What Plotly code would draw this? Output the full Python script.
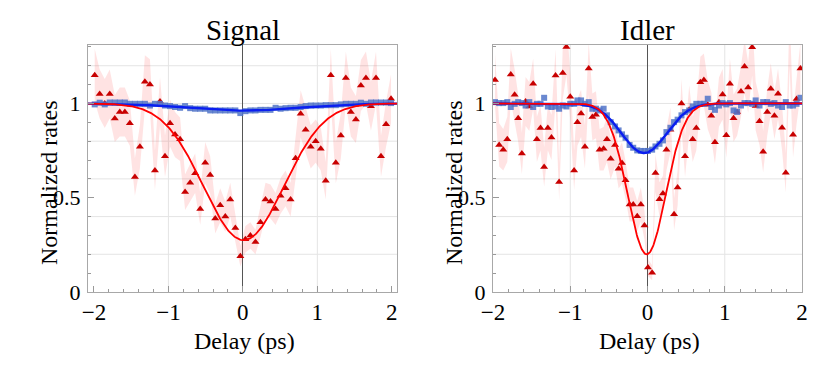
import numpy as np
import plotly.graph_objects as go

# ---------------- data ----------------
SIG_X = [-1.990, -1.923, -1.855, -1.788, -1.720, -1.653, -1.585, -1.518, -1.450, -1.383,
         -1.316, -1.248, -1.181, -1.113, -1.046, -0.978, -0.911, -0.843, -0.776, -0.708,
         -0.641, -0.573, -0.506, -0.439, -0.371, -0.304, -0.236, -0.169, -0.101, -0.034,
         0.034, 0.101, 0.169, 0.236, 0.304, 0.371, 0.439, 0.506, 0.573, 0.641,
         0.708, 0.776, 0.843, 0.911, 0.978, 1.046, 1.113, 1.181, 1.248, 1.316,
         1.383, 1.450, 1.518, 1.585, 1.653, 1.720, 1.788, 1.855, 1.923, 1.990]
SIG_RED = [1.15, 1.05, 1.00, 1.05, 0.92, 0.955, 0.955, 0.895, 0.61, 0.77,
           1.115, 1.10, 0.645, 1.01, 0.72, 0.895, 0.835, 0.81, 0.53, 0.58,
           0.63, 0.44, 0.685, 0.62, 0.39, 0.46, 0.40, 0.49, 0.34, 0.19,
           0.28, 0.30, 0.265, 0.37, 0.49, 0.48, 0.44, 0.51, 0.55, 0.49,
           0.71, 0.945, 0.86, 0.77, 0.80, 0.76, 0.59, 1.15, 0.685, 0.83,
           1.135, 0.955, 0.915, 1.095, 1.135, 0.985, 1.135, 0.72, 0.89, 1.025]
SIG_RED_ERR = [0.14, 0.13, 0.13, 0.13, 0.125, 0.13, 0.13, 0.12, 0.10, 0.115,
               0.14, 0.135, 0.105, 0.13, 0.11, 0.125, 0.12, 0.115, 0.095, 0.10,
               0.105, 0.085, 0.11, 0.10, 0.08, 0.09, 0.08, 0.09, 0.075, 0.055,
               0.07, 0.07, 0.065, 0.08, 0.09, 0.09, 0.085, 0.095, 0.095, 0.09,
               0.11, 0.125, 0.12, 0.115, 0.115, 0.115, 0.10, 0.14, 0.11, 0.12,
               0.14, 0.13, 0.125, 0.135, 0.14, 0.13, 0.14, 0.11, 0.12, 0.13]
SIG_BLUE = [0.995, 1.004, 0.995, 1.005, 1.005, 1.005, 1.005, 0.998, 0.998, 0.998,
            0.998, 0.989, 0.998, 0.998, 0.989, 0.986, 0.981, 0.977, 0.986, 0.975,
            0.972, 0.972, 0.972, 0.963, 0.963, 0.963, 0.963, 0.963, 0.963, 0.949,
            0.959, 0.963, 0.963, 0.966, 0.966, 0.966, 0.977, 0.972, 0.975, 0.977,
            0.977, 0.981, 0.986, 0.989, 0.989, 0.989, 0.991, 0.991, 0.991, 0.995,
            0.998, 0.998, 0.998, 1.004, 0.998, 1.005, 1.005, 1.005, 1.005, 1.002]

IDL_X = [-1.974, -1.920, -1.867, -1.815, -1.770, -1.720, -1.674, -1.626, -1.578, -1.530,
         -1.480, -1.432, -1.385, -1.338, -1.290, -1.243, -1.190, -1.144, -1.097, -1.050,
         -1.000, -0.950, -0.907, -0.860, -0.810, -0.761, -0.714, -0.667, -0.620, -0.568,
         -0.525, -0.477, -0.420, -0.374, -0.330, -0.284, -0.232, -0.185, -0.133, -0.086,
         -0.039, 0.006, 0.060, 0.103, 0.155, 0.200, 0.245, 0.297, 0.344, 0.390,
         0.440, 0.486, 0.540, 0.585, 0.632, 0.684, 0.730, 0.780, 0.826, 0.873,
         0.925, 0.972, 1.020, 1.067, 1.114, 1.160, 1.210, 1.256, 1.303, 1.355,
         1.400, 1.450, 1.497, 1.550, 1.596, 1.643, 1.690, 1.742, 1.790, 1.840,
         1.884, 1.930, 1.980]
IDL_RED = [1.125, 0.78, 0.755, 0.81, 1.153, 1.046, 0.922, 0.734, 1.01, 0.984,
           1.104, 0.81, 0.87, 0.663, 0.87, 0.82, 1.148, 0.584, 1.162, 1.30,
           1.035, 0.645, 0.90, 0.947, 0.77, 1.185, 0.928, 0.94, 0.755, 0.76,
           0.81, 0.707, 0.78, 0.654, 0.684, 0.593, 0.464, 0.464, 0.402, 0.464,
           0.353, 0.13, 0.102, 0.631, 0.492, 0.522, 0.755, 0.86, 0.413, 0.554,
           1.0, 0.72, 0.966, 0.81, 0.87, 1.113, 1.125, 0.993, 0.935, 0.794,
           1.007, 1.048, 0.832, 1.104, 0.922, 0.954, 1.063, 1.196, 1.085, 1.298,
           0.986, 0.905, 0.744, 0.954, 1.078, 0.935, 1.051, 0.871, 0.633, 1.34,
           0.834, 1.023, 1.185]
IDL_RED_ERR = [0.14, 0.115, 0.11, 0.12, 0.14, 0.135, 0.125, 0.11, 0.13, 0.13,
               0.135, 0.12, 0.12, 0.105, 0.12, 0.12, 0.14, 0.10, 0.14, 0.15,
               0.13, 0.105, 0.125, 0.125, 0.115, 0.14, 0.125, 0.125, 0.11, 0.115,
               0.12, 0.11, 0.115, 0.105, 0.11, 0.10, 0.09, 0.09, 0.08, 0.09,
               0.075, 0.045, 0.04, 0.10, 0.09, 0.095, 0.11, 0.12, 0.085, 0.095,
               0.13, 0.11, 0.13, 0.12, 0.12, 0.135, 0.14, 0.13, 0.125, 0.115,
               0.13, 0.135, 0.12, 0.135, 0.125, 0.125, 0.135, 0.14, 0.135, 0.15,
               0.13, 0.125, 0.11, 0.125, 0.135, 0.125, 0.135, 0.12, 0.105, 0.15,
               0.12, 0.13, 0.14]
IDL_BLUE = [1.007, 1.002, 1.002, 1.007, 0.981, 0.998, 1.007, 1.002, 0.989, 1.007,
            0.981, 0.998, 0.998, 1.030, 0.984, 0.981, 0.984, 0.972, 0.989, 0.984,
            0.998, 0.998, 1.016, 1.016, 0.998, 1.007, 0.972, 0.972, 0.963, 0.972,
            0.937, 0.901, 0.878, 0.857, 0.836, 0.818, 0.780, 0.765, 0.751, 0.748,
            0.748, 0.748, 0.755, 0.772, 0.786, 0.804, 0.848, 0.871, 0.901, 0.914,
            0.937, 0.954, 0.963, 0.984, 0.998, 0.998, 0.998, 1.025, 0.981, 0.966,
            0.989, 1.002, 0.995, 1.002, 0.963, 0.955, 0.989, 1.002, 1.002, 0.998,
            1.016, 0.989, 1.007, 1.007, 0.998, 1.002, 0.989, 0.981, 1.007, 0.989,
            0.989, 0.998, 1.030]

# fit parameters (depth, centre, width) of the Gaussian dips
SIG_RED_FIT = (0.725, 0.01, 0.54)
SIG_BLUE_FIT = (0.038, 0.0, 0.75)
IDL_RED_FIT = (0.80, -0.01, 0.245)
IDL_BLUE_FIT = (0.263, -0.045, 0.29)

X_TICKS = [-2, -1, 0, 1, 2]
Y_TICKS = [0, 0.5, 1]
Y_TICKTEXT = ["0", "0.5", "1"]
GRID_X = [-1, 1]
GRID_Y = [0.2, 0.4, 0.6, 0.8, 1.0, 1.2]

# ---------------- styles ----------------
FONT = "Liberation Serif"
RED_MK = "#C80000"
RED_LN = "#FF0000"
BLUE_MK = "rgba(80,115,200,0.85)"
BLUE_LN = "#0A1EF0"
BAND = "rgba(255,0,0,0.11)"
GRID_C = "#E4E4E4"


def dip(x, p):
    depth, c, s = p
    return 1 - depth * np.exp(-((x - c) ** 2) / (2 * s * s))


fig = go.Figure()


def add_panel(xs, red, err, blue, red_fit, blue_fit, xa, ya):
    xs = list(xs)
    up = [r + e for r, e in zip(red, err)]
    lo = [r - e for r, e in zip(red, err)]
    fig.add_trace(go.Scatter(x=xs + xs[::-1], y=up + lo[::-1], fill="toself",
                             fillcolor=BAND, line=dict(width=0), mode="lines",
                             hoverinfo="skip", showlegend=False, xaxis=xa, yaxis=ya))
    fig.add_trace(go.Scatter(x=xs, y=red, mode="markers",
                             marker=dict(symbol="triangle-up", size=7, color=RED_MK),
                             showlegend=False, xaxis=xa, yaxis=ya))
    fig.add_trace(go.Scatter(x=xs, y=blue, mode="markers",
                             marker=dict(symbol="square", size=6, color=BLUE_MK),
                             showlegend=False, xaxis=xa, yaxis=ya))
    xf = np.linspace(-2.1, 2.1, 500)
    fig.add_trace(go.Scatter(x=xf, y=dip(xf, blue_fit), mode="lines",
                             line=dict(color=BLUE_LN, width=2.4),
                             showlegend=False, xaxis=xa, yaxis=ya))
    fig.add_trace(go.Scatter(x=xf, y=dip(xf, red_fit), mode="lines",
                             line=dict(color=RED_LN, width=1.8),
                             showlegend=False, xaxis=xa, yaxis=ya))


add_panel(SIG_X, SIG_RED, SIG_RED_ERR, SIG_BLUE, SIG_RED_FIT, SIG_BLUE_FIT, "x", "y")
add_panel(IDL_X, IDL_RED, IDL_RED_ERR, IDL_BLUE, IDL_RED_FIT, IDL_BLUE_FIT, "x2", "y2")

W, H = 830, 367


def xaxis(dom, rng, anchor):
    return dict(domain=dom, range=rng, anchor=anchor, automargin=False,
                tickvals=X_TICKS, ticks="inside", ticklen=6,
                tickcolor="#999", showgrid=False, zeroline=True, zerolinecolor="#555",
                zerolinewidth=1, showline=True, mirror=True, linecolor="#A8A8A8",
                linewidth=1, tickfont=dict(family=FONT, size=23, color="black"),
                ticklabelstandoff=-1,
                minor=dict(dtick=0.2, ticks="inside", ticklen=3, tickcolor="#999"),
                fixedrange=True)


def yaxis(anchor):
    return dict(domain=[(H - 292) / H, (H - 45) / H], range=[0, 1.31], anchor=anchor,
                automargin=False,
                tickvals=Y_TICKS, ticktext=Y_TICKTEXT, ticks="inside", ticklen=6,
                tickcolor="#999", showgrid=False, zeroline=False, showline=True,
                mirror=True, linecolor="#A8A8A8", linewidth=1,
                tickfont=dict(family=FONT, size=22, color="black"),
                ticklabelstandoff=2,
                minor=dict(dtick=0.1, ticks="inside", ticklen=3, tickcolor="#999"),
                fixedrange=True)


shapes = []
for xr, yr in (("x", "y"), ("x2", "y2")):
    for gy in GRID_Y:
        shapes.append(dict(type="line", xref=f"{xr} domain", yref=yr, x0=0, x1=1,
                           y0=gy, y1=gy, line=dict(color=GRID_C, width=1), layer="below"))
    for gx in GRID_X:
        shapes.append(dict(type="line", xref=xr, yref=f"{yr} domain", x0=gx, x1=gx,
                           y0=0, y1=1, line=dict(color=GRID_C, width=1), layer="below"))

ann = []
for title, cx, ylab_x in (("Signal", 242.5, 49), ("Idler", 647.5, 454)):
    ann.append(dict(text=title, x=cx / W, y=(H - 30) / H, xref="paper", yref="paper",
                    showarrow=False, font=dict(family=FONT, size=29, color="black"),
                    xanchor="center", yanchor="middle"))
    ann.append(dict(text="Delay (ps)", x=(cx + 2) / W, y=(H - 341) / H, xref="paper",
                    yref="paper", showarrow=False,
                    font=dict(family=FONT, size=24, color="black"),
                    xanchor="center", yanchor="middle"))
    ann.append(dict(text="Normalized rates", x=ylab_x / W, y=(H - 183) / H, xref="paper",
                    yref="paper", showarrow=False, textangle=-90,
                    font=dict(family=FONT, size=24, color="black"),
                    xanchor="center", yanchor="middle"))

fig.update_layout(
    width=W, height=H, margin=dict(l=0, r=0, t=0, b=0, autoexpand=False),
    paper_bgcolor="white", plot_bgcolor="white",
    xaxis=xaxis([88 / W, 397 / W], [-2.08, 2.07], "y"),
    yaxis=yaxis("x"),
    xaxis2=xaxis([493 / W, 802 / W], [-2.0, 2.0], "y2"),
    yaxis2=yaxis("x2"),
    shapes=shapes, annotations=ann, showlegend=False,
)

fig.write_html("out.html", config={"displayModeBar": False},
               post_script="document.body.style.margin='0';document.body.style.padding='0';")
